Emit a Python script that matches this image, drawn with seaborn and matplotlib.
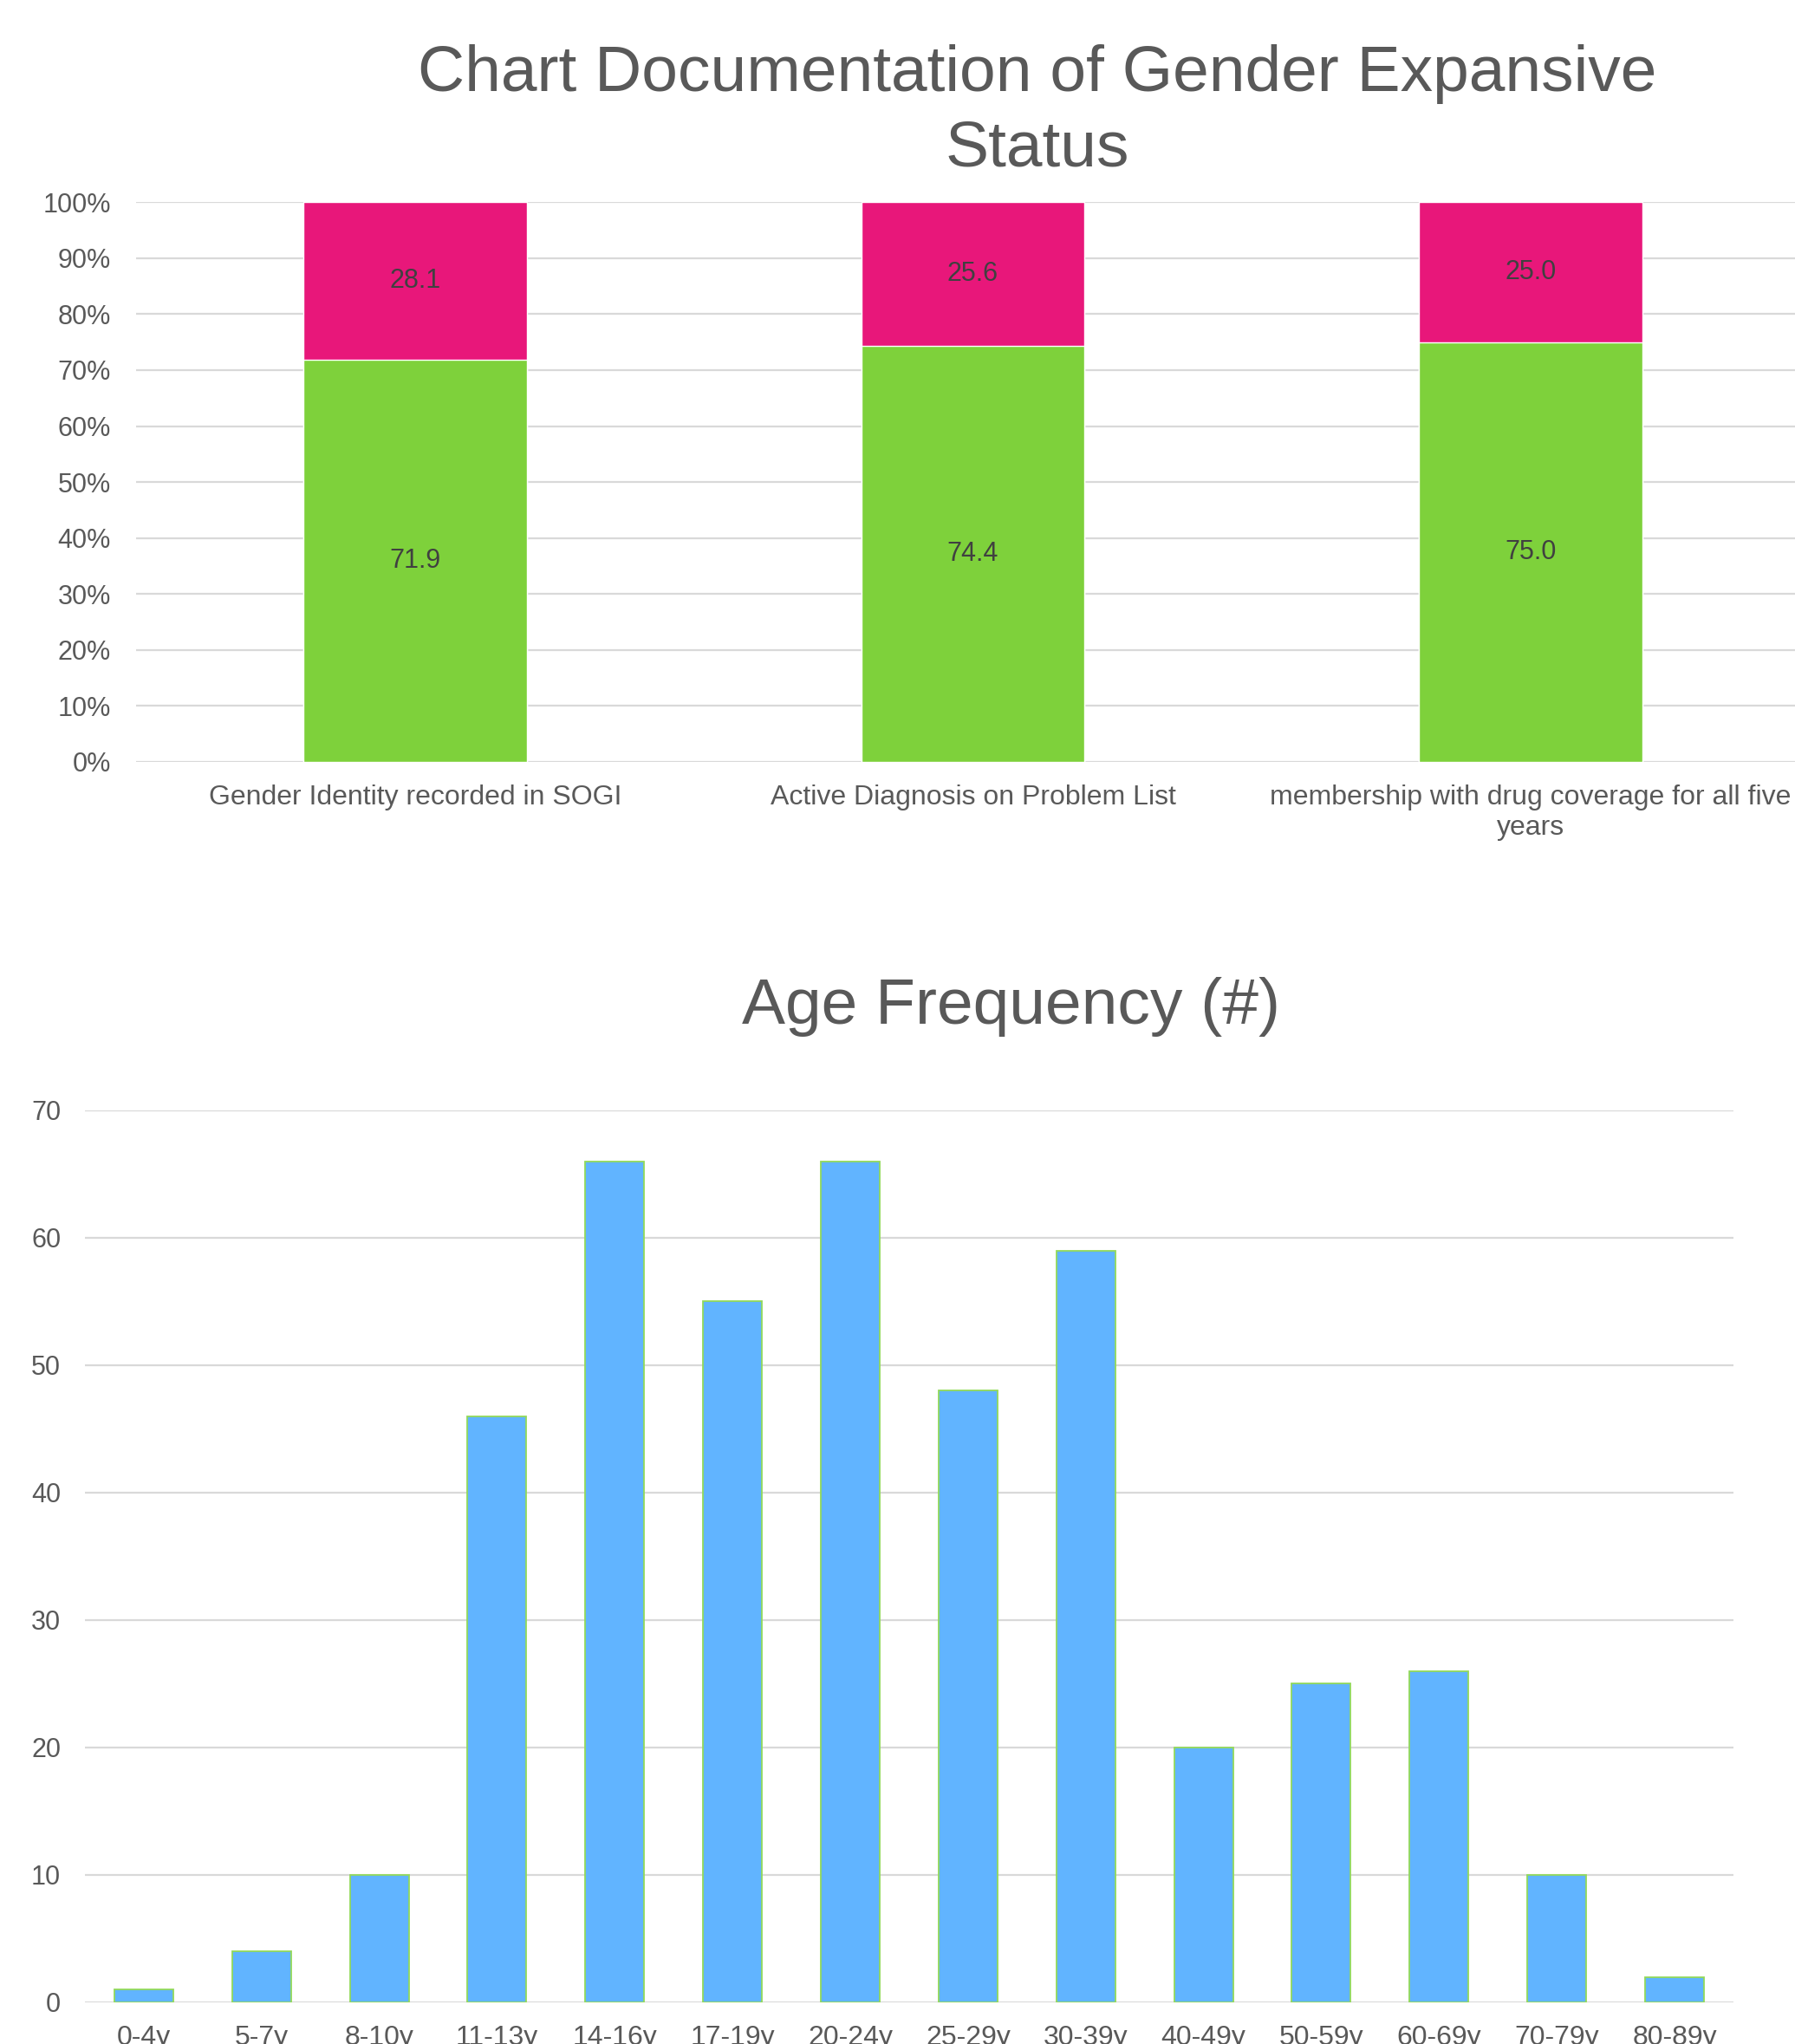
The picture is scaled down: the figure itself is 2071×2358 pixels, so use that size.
import matplotlib
matplotlib.use("Agg")
import matplotlib.pyplot as plt
import numpy as np
import pandas as pd
import seaborn as sns

# Documentation status per measure (percent of patients)
measures = [
    "Gender Identity recorded in SOGI",
    "Active Diagnosis on Problem List",
    "membership with drug coverage for all five\nyears",
]
documented = [71.9, 74.4, 75.0]
not_documented = [28.1, 25.6, 25.0]

# Age distribution (number of patients)
age_groups = ["0-4y", "5-7y", "8-10y", "11-13y", "14-16y", "17-19y", "20-24y",
              "25-29y", "30-39y", "40-49y", "50-59y", "60-69y", "70-79y", "80-89y"]
age_counts = [1, 4, 10, 46, 66, 55, 66, 48, 59, 20, 25, 26, 10, 2]

PINK = "#E8177A"
GREEN = "#7ED13B"
BLUE = "#61B4FF"
BAR_EDGE = "#92D95A"
GRID = "#D9D9D9"
TEXT = "#595959"
LABEL = "#404040"

sns.set_theme(style="white")
plt.rcParams["font.family"] = ["Liberation Sans", "DejaVu Sans"]

fig = plt.figure(figsize=(20.71, 23.58), dpi=100)

# ---- Stacked percentage chart ----
status = pd.DataFrame({
    "measure": measures,
    "documented": documented,
    "not_documented": not_documented,
})
status["total"] = status["documented"] + status["not_documented"]

ax1 = fig.add_axes([0.0758, 0.6274, 0.9324, 0.2736])
sns.barplot(data=status, x="measure", y="total", color=PINK, saturation=1,
            width=0.4, ax=ax1, zorder=2)
sns.barplot(data=status, x="measure", y="documented", color=GREEN, saturation=1,
            width=0.4, ax=ax1, zorder=3)
for i, row in status.iterrows():
    ax1.text(i, row["documented"] / 2, f"{row['documented']:.1f}",
             ha="center", va="center", fontsize=22, color=LABEL, zorder=4)
    ax1.text(i, row["documented"] + row["not_documented"] / 2,
             f"{row['not_documented']:.1f}",
             ha="center", va="center", fontsize=22, color=LABEL, zorder=4)

ax1.set_ylim(0, 100)
ax1.set_yticks(np.arange(0, 101, 10))
ax1.set_yticklabels([f"{v}%" for v in range(0, 101, 10)])
ax1.set_xlabel("")
ax1.set_ylabel("")
ax1.yaxis.grid(True, color=GRID, linewidth=1.6, zorder=0)
ax1.set_axisbelow(True)
for s in ax1.spines.values():
    s.set_visible(False)
ax1.tick_params(axis="y", length=0, pad=21, labelsize=22, labelcolor=TEXT)
ax1.tick_params(axis="x", length=0, pad=19, labelsize=23, labelcolor=TEXT)

fig.text(1197 / 2071, 1 - 105 / 2358, "Chart Documentation of Gender Expansive",
         ha="center", va="baseline", fontsize=54, color=TEXT)
fig.text(1197 / 2071, 1 - 191 / 2358, "Status",
         ha="center", va="baseline", fontsize=54, color=TEXT)

# ---- Age frequency chart ----
ages = pd.DataFrame({"age": age_groups, "count": age_counts})

ax2 = fig.add_axes([0.0473, 0.02036, 0.9184, 0.4364])
sns.barplot(data=ages, x="age", y="count", color=BLUE, saturation=1,
            width=0.5, edgecolor=BAR_EDGE, linewidth=1.3, ax=ax2, zorder=2)
ax2.set_ylim(0, 70)
ax2.set_yticks(np.arange(0, 71, 10))
ax2.set_xlabel("")
ax2.set_ylabel("")
ax2.yaxis.grid(True, color=GRID, linewidth=1.6, zorder=0)
ax2.set_axisbelow(True)
for s in ax2.spines.values():
    s.set_visible(False)
ax2.tick_params(axis="y", length=0, pad=20, labelsize=22, labelcolor=TEXT)
ax2.tick_params(axis="x", length=0, pad=19, labelsize=23, labelcolor=TEXT)

fig.text(1167 / 2071, 1 - 1181 / 2358, "Age Frequency (#)",
         ha="center", va="baseline", fontsize=54, color=TEXT)

fig.savefig("out.png", dpi=100, facecolor="white")
